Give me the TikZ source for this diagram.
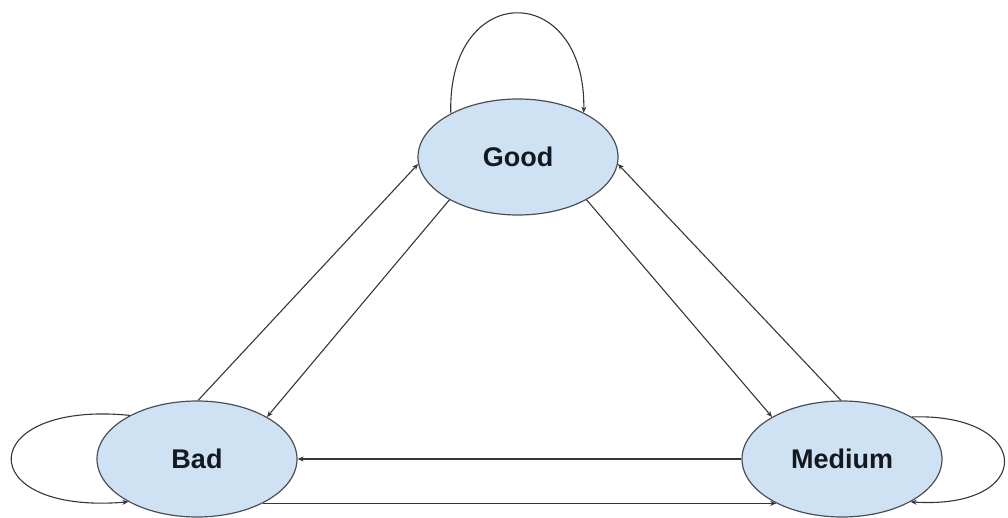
\documentclass[tikz,border=0pt]{standalone}
\usepackage{fontspec}
\setmainfont{Liberation Sans}
\usetikzlibrary{arrows.meta,shapes.geometric}
\definecolor{statefill}{HTML}{CFE2F3}
\definecolor{stateline}{HTML}{4A4F57}
\definecolor{edgeline}{HTML}{363636}
\definecolor{labeltext}{HTML}{141820}
\begin{document}
\begin{tikzpicture}[x=1pt,y=-1pt,
  state/.style={ellipse, draw=stateline, line width=1.2pt, fill=statefill,
    minimum width=200pt, minimum height=116pt, inner sep=0pt,
    font=\fontsize{27}{32}\selectfont\bfseries, text=labeltext},
  link/.style={draw=edgeline, line width=1.1pt,
    -{Stealth[length=6pt,width=5pt]}}]
\useasboundingbox (0,0) rectangle (1008,518);

% states
\node[state] (good)   at (518,157) {Good};
\node[state] (bad)    at (197,459) {Bad};
\node[state] (medium) at (842,459) {Medium};

% transitions between states
\draw[link] (bad.89) -- (good.184);
\draw[link] (good.212) -- (bad.31);
\draw[link] (good.328) -- (medium.149);
\draw[link] (medium.91) -- (good.356);
\draw[link] (medium.west) -- (bad.east);
\draw[link] (bad.-34) -- (medium.214);

% self transitions
\draw[link] (good.147) .. controls +(-4,-133) and +(2,-133) .. (good.34);
\draw[link] (bad.147) .. controls (-25,400) and (-30,515) .. (bad.212);
\draw[link] (medium.31) .. controls (1034,413) and (1036,510) .. (medium.328);
\end{tikzpicture}
\end{document}
